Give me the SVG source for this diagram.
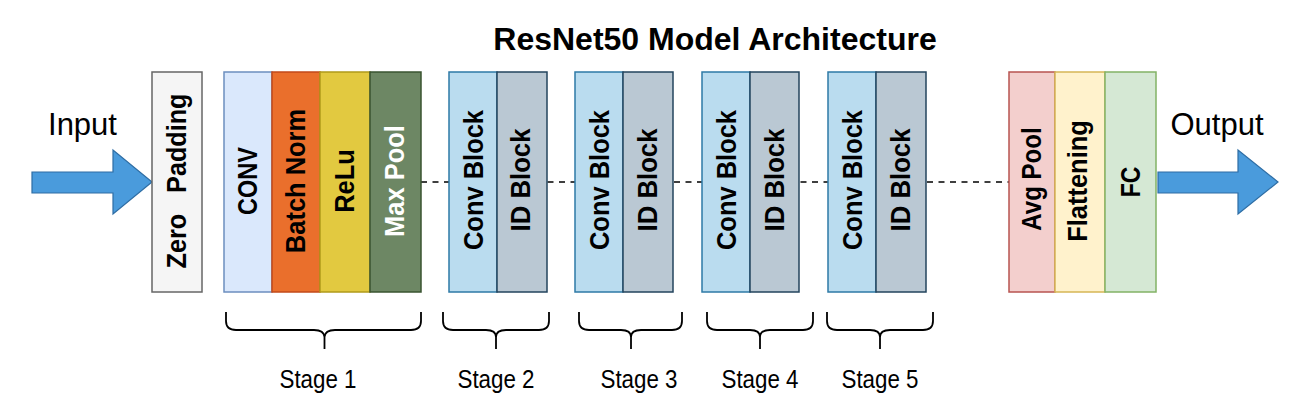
<svg xmlns="http://www.w3.org/2000/svg" width="1300" height="416" viewBox="0 0 1300 416">
<style>
.lbl{font-family:"Liberation Sans",Arial,sans-serif;font-weight:bold;font-size:28px;text-anchor:middle;fill:#000}
.big{font-family:"Liberation Sans",Arial,sans-serif;font-size:31px;text-anchor:middle;fill:#000}
.stage{font-family:"Liberation Sans",Arial,sans-serif;font-size:26px;text-anchor:middle;fill:#000}
.title{font-family:"Liberation Sans",Arial,sans-serif;font-weight:bold;font-size:32px;text-anchor:middle;fill:#000}
.box{stroke-width:1.5}
.arrow{fill:#4a9bdc;stroke:#2e6da4;stroke-width:1.2}
.brace{fill:none;stroke:#000;stroke-width:1.8}
.dash{stroke:#000;stroke-width:1.6;stroke-dasharray:6 5.5;fill:none}
</style>
<rect width="1300" height="416" fill="#fff"/>
<text class="title" x="715" y="50">ResNet50 Model Architecture</text>

<g id="connectors">
<line class="dash" x1="421" y1="182" x2="1009" y2="182"/>
</g>

<g id="input">
<text class="big" x="82.5" y="135">Input</text>
<polygon class="arrow" points="32,172 113,172 113,150 152,182 113,214 113,193 32,193"/>
</g>
<g id="output">
<text class="big" x="1217" y="135">Output</text>
<polygon class="arrow" points="1158,172 1238,172 1238,150 1278,182 1238,214 1238,193 1158,193"/>
</g>

<g id="zero-padding">
<rect class="box" x="152" y="72" width="50" height="220" fill="#f5f5f5" stroke="#666666"/>
<text class="lbl" transform="translate(186,181) rotate(-90) scale(0.9,1)" style="white-space:pre">Zero   Padding</text>
</g>
<g id="conv">
<rect class="box" x="224" y="72" width="48" height="220" fill="#dae8fc" stroke="#6c8ebf"/>
<text class="lbl" transform="translate(257,181) rotate(-90) scale(0.84,1)">CONV</text>
</g>
<g id="batch-norm">
<rect class="box" x="272" y="72" width="48" height="220" fill="#ea6f2c" stroke="#c24a1a"/>
<text class="lbl" transform="translate(305,181) rotate(-90) scale(0.91,1)">Batch Norm</text>
</g>
<g id="relu">
<rect class="box" x="320" y="72" width="50" height="220" fill="#e2c940" stroke="#b09a1a"/>
<text class="lbl" transform="translate(354,181) rotate(-90) scale(0.91,1)">ReLu</text>
</g>
<g id="max-pool">
<rect class="box" x="370" y="72" width="51" height="220" fill="#6d8764" stroke="#3a5431"/>
<text class="lbl" transform="translate(404,181) rotate(-90) scale(0.91,1)" style="fill:#fff">Max Pool</text>
</g>

<g id="stage2-conv">
<rect class="box" x="449" y="72" width="48" height="220" fill="#badcef" stroke="#2e7aa6"/>
<text class="lbl" transform="translate(483,180) rotate(-90) scale(0.91,1)">Conv Block</text>
</g>
<g id="stage2-id">
<rect class="box" x="497" y="72" width="50" height="220" fill="#bac8d3" stroke="#23445d"/>
<text class="lbl" transform="translate(530,180) rotate(-90) scale(0.92,1)">ID Block</text>
</g>
<g id="stage3-conv">
<rect class="box" x="575" y="72" width="48" height="220" fill="#badcef" stroke="#2e7aa6"/>
<text class="lbl" transform="translate(609,180) rotate(-90) scale(0.91,1)">Conv Block</text>
</g>
<g id="stage3-id">
<rect class="box" x="623" y="72" width="50" height="220" fill="#bac8d3" stroke="#23445d"/>
<text class="lbl" transform="translate(657,180) rotate(-90) scale(0.92,1)">ID Block</text>
</g>
<g id="stage4-conv">
<rect class="box" x="702" y="72" width="48" height="220" fill="#badcef" stroke="#2e7aa6"/>
<text class="lbl" transform="translate(736,180) rotate(-90) scale(0.91,1)">Conv Block</text>
</g>
<g id="stage4-id">
<rect class="box" x="750" y="72" width="49" height="220" fill="#bac8d3" stroke="#23445d"/>
<text class="lbl" transform="translate(784,180) rotate(-90) scale(0.92,1)">ID Block</text>
</g>
<g id="stage5-conv">
<rect class="box" x="828" y="72" width="48" height="220" fill="#badcef" stroke="#2e7aa6"/>
<text class="lbl" transform="translate(862,180) rotate(-90) scale(0.91,1)">Conv Block</text>
</g>
<g id="stage5-id">
<rect class="box" x="876" y="72" width="50" height="220" fill="#bac8d3" stroke="#23445d"/>
<text class="lbl" transform="translate(910,180) rotate(-90) scale(0.92,1)">ID Block</text>
</g>

<g id="avg-pool">
<rect class="box" x="1009" y="72" width="46" height="220" fill="#f3cfcd" stroke="#b85450"/>
<text class="lbl" transform="translate(1041,179) rotate(-90) scale(0.86,1)">Avg Pool</text>
</g>
<g id="flattening">
<rect class="box" x="1055" y="72" width="50" height="220" fill="#fff2cc" stroke="#d6b656"/>
<text class="lbl" transform="translate(1087,181) rotate(-90) scale(0.91,1)">Flattening</text>
</g>
<g id="fc">
<rect class="box" x="1105" y="72" width="51" height="220" fill="#d5e8d4" stroke="#82b366"/>
<text class="lbl" transform="translate(1140,182) rotate(-90) scale(0.82,1)">FC</text>
</g>

<g id="stage1">
<path class="brace" d="M226,312 V321 Q226,330 236,330 H314 Q324,330 324.5,337 Q325,330 335,330 H411 Q421,330 421,321 V312 M324.5,337 V349"/>
<text class="stage" transform="translate(318,388) scale(0.86,1)">Stage 1</text>
</g>
<g id="stage2">
<path class="brace" d="M443,312 V321 Q443,330 453,330 H486 Q496,330 496,337 Q496,330 506,330 H539 Q549,330 549,321 V312 M496,337 V349"/>
<text class="stage" transform="translate(496,388) scale(0.86,1)">Stage 2</text>
</g>
<g id="stage3">
<path class="brace" d="M579,312 V321 Q579,330 589,330 H621 Q631,330 631,337 Q631,330 641,330 H672 Q682,330 682,321 V312 M631,337 V349"/>
<text class="stage" transform="translate(639,388) scale(0.86,1)">Stage 3</text>
</g>
<g id="stage4">
<path class="brace" d="M707,312 V321 Q707,330 717,330 H750 Q760,330 760,337 Q760,330 770,330 H803 Q813,330 813,321 V312 M760,337 V349"/>
<text class="stage" transform="translate(760,388) scale(0.86,1)">Stage 4</text>
</g>
<g id="stage5">
<path class="brace" d="M827,312 V321 Q827,330 837,330 H870 Q880,330 880,337 Q880,330 890,330 H923 Q933,330 933,321 V312 M880,337 V349"/>
<text class="stage" transform="translate(880,388) scale(0.86,1)">Stage 5</text>
</g>
</svg>
